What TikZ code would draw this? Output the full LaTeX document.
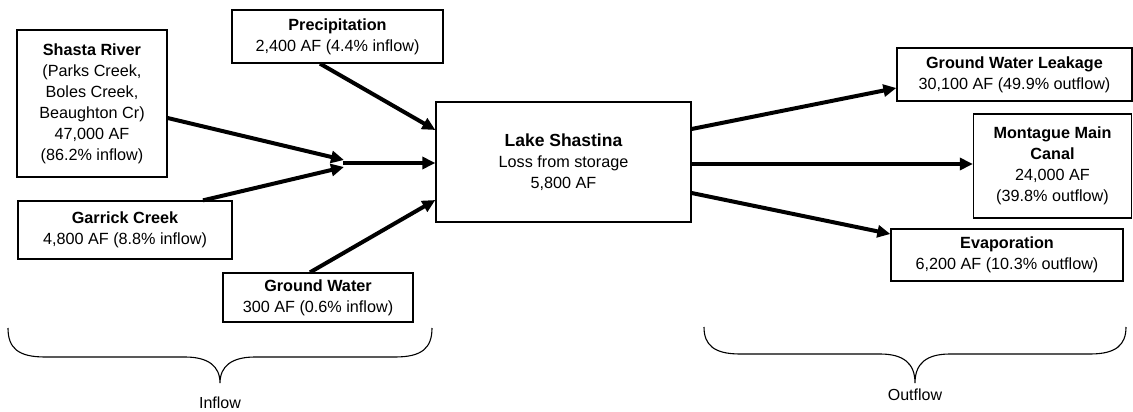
\documentclass[tikz,border=0pt]{standalone}
\usepackage{fontspec}
\setmainfont{Liberation Sans}
\usetikzlibrary{arrows.meta}
\tikzset{
  box/.style={draw, line width=1.3pt, align=center, inner sep=0pt, font=\fontsize{16.2}{21}\selectfont},
  flow/.style={line width=4pt, -{Triangle[length=13pt,width=12pt]}},
  brace/.style={line width=1.1pt},
  lbl/.style={font=\fontsize{16}{20}\selectfont, inner sep=0pt}
}
\begin{document}
\begin{tikzpicture}[x=1pt,y=-1pt]
\useasboundingbox (0,0) rectangle (1133,412);
% inflow boxes
\node[box, minimum width=150pt, minimum height=147pt] (shasta) at (92,103.5)
  {\textbf{Shasta River}\\(Parks Creek,\\Boles Creek,\\Beaughton Cr)\\47,000 AF\\(86.2\% inflow)};
\node[box, minimum width=211pt, minimum height=53pt] (precip) at (337.5,36.5)
  {\textbf{Precipitation}\\2,400 AF (4.4\% inflow)};
\node[box, minimum width=214pt, minimum height=58pt] (garrick) at (125,230)
  {\textbf{Garrick Creek}\\4,800 AF (8.8\% inflow)};
\node[box, minimum width=190pt, minimum height=49pt] (gw) at (318,297.5)
  {\textbf{Ground Water}\\300 AF (0.6\% inflow)};
% lake
\node[box, minimum width=255pt, minimum height=120pt] (lake) at (563.5,162)
  {{\fontsize{17.5}{21}\selectfont\textbf{Lake Shastina}}\\Loss from storage\\5,800 AF};
% outflow boxes
\node[box, minimum width=235pt, minimum height=53pt] (gwl) at (1014.5,74.5)
  {\textbf{Ground Water Leakage}\\30,100 AF (49.9\% outflow)};
\node[box, minimum width=158pt, minimum height=104pt] (mont) at (1052.5,166)
  {\textbf{Montague Main}\\\textbf{Canal}\\24,000 AF\\(39.8\% outflow)};
\node[box, minimum width=232pt, minimum height=52pt] (evap) at (1007,255)
  {\textbf{Evaporation}\\6,200 AF (10.3\% outflow)};
% junction
\coordinate (j1) at (344,160);
\coordinate (j2) at (344,167);
\coordinate (j0) at (343,163);
% inflow arrows
\draw[flow] ([yshift=-14.5pt]shasta.east) -- (j1);
\draw[flow] ([xshift=78pt]garrick.north) -- (j2);
\draw[flow] (j0) -- ([yshift=-1pt]lake.west);
\draw[flow] ([xshift=-17.5pt]precip.south) -- ([yshift=32pt]lake.west);
\draw[flow] ([xshift=-8pt]gw.north) -- ([yshift=-38pt]lake.west);
% outflow arrows
\draw[flow] ([yshift=33pt]lake.east) -- ([yshift=-13.5pt]gwl.west);
\draw[flow] ([yshift=-2pt]lake.east) -- ([yshift=2pt]mont.west);
\draw[flow] ([yshift=-31pt]lake.east) -- ([yshift=21pt]evap.west);
% braces
\draw[brace] (8,328) .. controls (8,348) and (18,357) .. (45,357) -- (185,357)
  .. controls (208,357) and (220,366) .. (220,383)
  .. controls (220,366) and (232,357) .. (255,357) -- (395,357)
  .. controls (422,357) and (432,348) .. (432,328);
\draw[brace] (704,327) .. controls (704,345) and (714,354) .. (740,354) -- (880,354)
  .. controls (903,354) and (915,363) .. (915,383)
  .. controls (915,363) and (927,354) .. (950,354) -- (1090,354)
  .. controls (1116,354) and (1126,345) .. (1126,327);
\node[lbl] (inflow) at (220,403) {Inflow};
\node[lbl] (outflow) at (915,395) {Outflow};
\end{tikzpicture}
\end{document}
